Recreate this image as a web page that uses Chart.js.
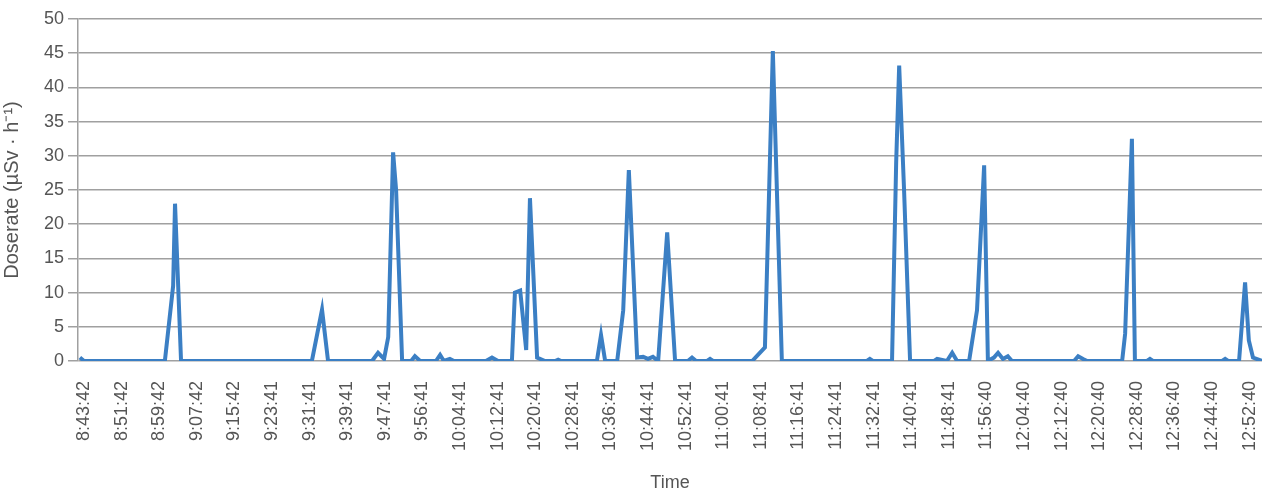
<!DOCTYPE html>
<html>
<head>
<meta charset="utf-8">
<script src="https://cdn.jsdelivr.net/npm/chart.js@4/dist/chart.umd.min.js"></script>
<style>
  html, body { margin: 0; padding: 0; background: #fff; }
  #wrap { width: 1272px; height: 495px; }
</style>
</head>
<body>
<div id="wrap"><canvas id="doseCanvas"></canvas></div>
<script>
// category labels shown on the time axis
const timeLabels = [
  "8:43:42", "8:51:42", "8:59:42", "9:07:42", "9:15:42", "9:23:41", "9:31:41", "9:39:41",
  "9:47:41", "9:56:41", "10:04:41", "10:12:41", "10:20:41", "10:28:41", "10:36:41", "10:44:41",
  "10:52:41", "11:00:41", "11:08:41", "11:16:41", "11:24:41", "11:32:41", "11:40:41", "11:48:41",
  "11:56:40", "12:04:40", "12:12:40", "12:20:40", "12:28:40", "12:36:40", "12:44:40", "12:52:40"
];

const yTicks = [0, 5, 10, 15, 20, 25, 30, 35, 40, 45, 50];

// position along the time axis, in label steps (0 = 8:43:42)
const samplePos = [
  -0.11, 0, 2.15, 2.37, 2.42, 2.58, 6.06, 6.33, 6.49, 7.66, 7.82, 7.98, 8.09, 8.22, 8.30, 8.46,
  8.70, 8.80, 8.94, 9.36, 9.47, 9.57, 9.73, 9.84, 10.69, 10.85, 11.01, 11.38, 11.46, 11.60, 11.76,
  11.86, 12.05, 12.26, 12.53, 12.61, 12.69, 13.64, 13.75, 13.86, 14.18, 14.34, 14.49, 14.71, 14.87,
  15.00, 15.13, 15.27, 15.51, 15.72, 16.06, 16.17, 16.28, 16.57, 16.65, 16.73, 17.77, 18.11, 18.32,
  18.56, 20.82, 20.90, 20.98, 21.49, 21.60, 21.68, 21.81, 21.97, 22.61, 22.69, 22.95, 23.09, 23.22,
  23.54, 23.75, 23.94, 24.04, 24.20, 24.31, 24.44, 24.57, 24.68, 26.33, 26.44, 26.57, 26.68, 27.61,
  27.69, 27.87, 27.95, 28.27, 28.35, 28.43, 30.27, 30.35, 30.43, 30.72, 30.88, 30.98, 31.09, 31.33
];

// doserate in µSv/h at each sample
const doserate = [
  0.5, 0, 0, 11, 23, 0, 0, 7.5, 0, 0, 1.2, 0.3, 3.5, 30.5, 25, 0,
  0, 0.7, 0, 0, 0.9, 0, 0.3, 0, 0, 0.5, 0, 0, 10, 10.3, 1.6,
  23.8, 0.5, 0, 0, 0.2, 0, 0, 3.8, 0, 0, 7.4, 27.9, 0.5, 0.6,
  0.3, 0.6, 0, 18.8, 0, 0, 0.5, 0, 0, 0.3, 0, 0, 2, 45.3,
  0, 0, 0.3, 0, 0, 29, 43.2, 25, 0, 0, 0.3, 0, 1.2, 0,
  0, 7.4, 28.6, 0, 0.5, 1.2, 0.3, 0.7, 0, 0, 0.7, 0.3, 0, 0,
  4, 32.5, 0, 0, 0.3, 0, 0, 0.3, 0, 0, 11.5, 3, 0.5, 0
];

const points = samplePos.map((x, i) => ({ x: x, y: doserate[i] }));

const fontFamily = "'Liberation Sans', Arial, sans-serif";

new Chart(document.getElementById("doseCanvas"), {
  type: "line",
  data: {
    datasets: [{
      data: points,
      borderColor: "#3b7fc4",
      borderWidth: 4,
      pointRadius: 0,
      tension: 0,
      fill: false
    }]
  },
  options: {
    responsive: true,
    maintainAspectRatio: false,
    animation: false,
    layout: { padding: { left: 0, right: 10, top: 19, bottom: 1 } },
    plugins: { legend: { display: false }, tooltip: { enabled: false } },
    scales: {
      x: {
        type: "linear",
        min: -0.16,
        max: 31.33,
        afterBuildTicks: (axis) => {
          axis.ticks = timeLabels.map((t, i) => ({ value: i }));
        },
        // fixed axis box so the plot ends at the same place as the original;
        // the rotated last label fits in the right margin
        afterFit: (axis) => {
          axis.paddingRight = 0;
          axis.height = 133;
        },
        grid: { display: false },
        border: { display: false },
        ticks: {
          autoSkip: false,
          minRotation: 90,
          maxRotation: 90,
          color: "#555",
          font: { family: fontFamily, size: 18 },
          padding: 12,
          callback: (v) => timeLabels[v]
        },
        title: {
          display: true,
          text: "Time",
          color: "#555",
          font: { family: fontFamily, size: 18 },
          padding: { top: 4, bottom: 0 }
        }
      },
      y: {
        min: 0,
        max: 50,
        afterBuildTicks: (axis) => {
          axis.ticks = yTicks.map((v) => ({ value: v }));
        },
        grid: { color: "#a0a0a0", lineWidth: 1.5, tickLength: 10 },
        border: { color: "#a0a0a0", width: 1.5 },
        ticks: { color: "#555", font: { family: fontFamily, size: 18 }, padding: 4 },
        title: {
          display: true,
          text: "Doserate (µSv · h⁻¹)",
          color: "#555",
          font: { family: fontFamily, size: 20 },
          padding: { top: 0, bottom: 16 }
        }
      }
    }
  }
});
</script>
</body>
</html>
